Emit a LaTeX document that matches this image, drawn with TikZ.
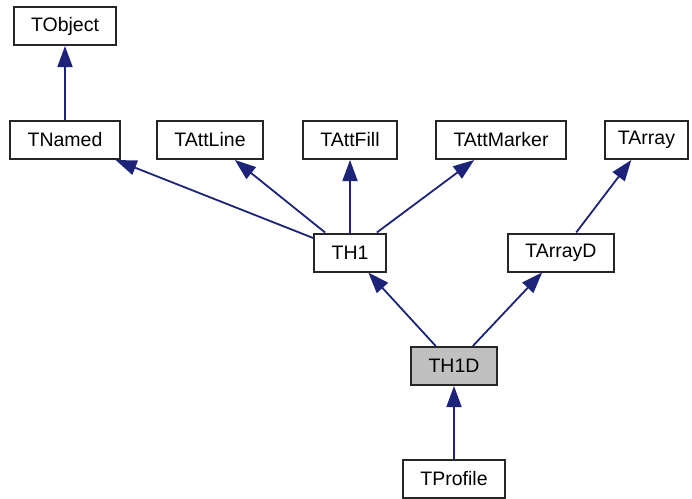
\documentclass[tikz,border=0pt]{standalone}
\usepackage{fontspec}
\setmainfont{Liberation Sans}
\usetikzlibrary{arrows.meta, positioning}
\definecolor{edgeNavy}{HTML}{1C2378}
\definecolor{boxLine}{HTML}{262626}
\definecolor{focusGray}{HTML}{C0C0C0}
\tikzset{
    classbox/.style={draw=boxLine, line width=2pt, fill=white, minimum height=38pt, inner xsep=17.5pt, font=\fontsize{19.5}{22}\selectfont},
    inherit/.style={-{Triangle[length=21pt, width=15pt]}, edgeNavy, line width=1.8pt}
}

\begin{document}
\begin{tikzpicture}[x=1pt, y=-1pt]
        \useasboundingbox (0,0) rectangle (692,498);

        % Base classes
        \node[classbox] (tobject) at (65, 26) {TObject};
        \node[classbox] (tnamed) at (65, 140) {TNamed};
        \node[classbox] (tattline) at (210, 140) {TAttLine};
        \node[classbox] (tattfill) at (350, 140) {TAttFill};
        \node[classbox] (tattmarker) at (501, 140) {TAttMarker};
        \node[classbox, inner xsep=13pt] (tarray) at (646.5, 140) {TArray};

        % Middle level
        \node[classbox] (th1) at (350, 252.5) {TH1};
        \node[classbox] (tarrayd) at (561, 252.5) {TArrayD};

        % Focus class and child
        \node[classbox, fill=focusGray] (th1d) at (454, 366) {TH1D};
        \node[classbox] (tprofile) at (454, 479) {TProfile};

        % Inheritance arrows
        \draw[inherit] (tnamed) -- (tobject);
        \draw[inherit] (th1) -- (tnamed);
        \draw[inherit] (th1) -- (tattline);
        \draw[inherit] (th1) -- (tattfill);
        \draw[inherit] (th1) -- (tattmarker);
        \draw[inherit] (tarrayd) -- (tarray);
        \draw[inherit] (th1d) -- (th1);
        \draw[inherit] (th1d) -- (tarrayd);
        \draw[inherit] (tprofile) -- (th1d);
    \end{tikzpicture}
\end{document}
